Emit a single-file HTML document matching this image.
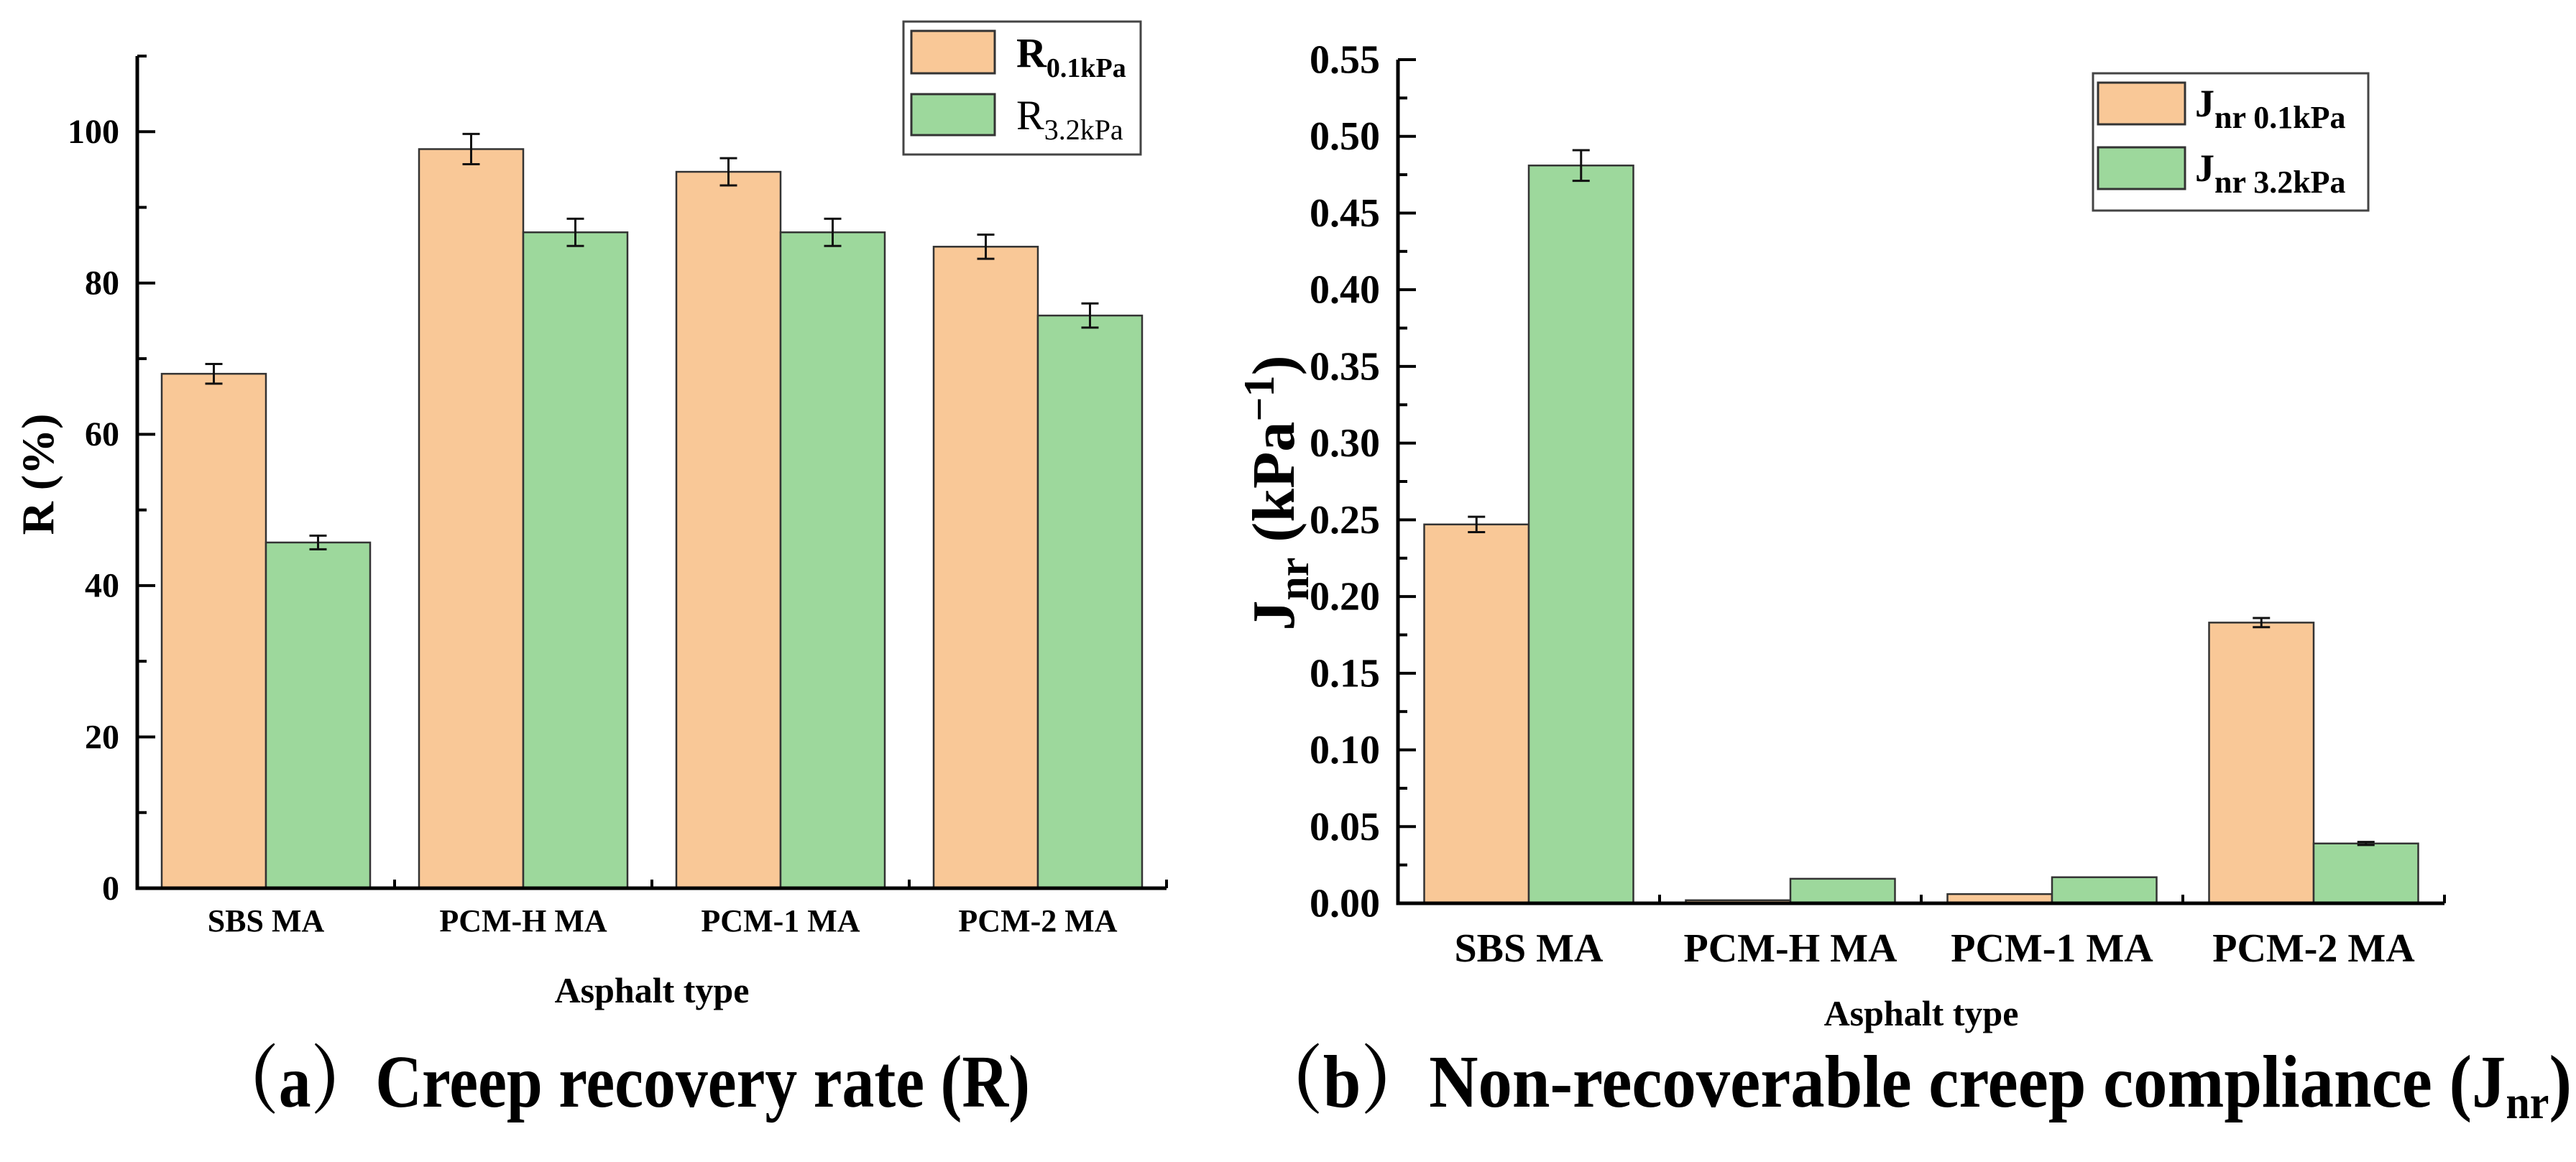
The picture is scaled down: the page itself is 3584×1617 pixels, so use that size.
<!DOCTYPE html>
<html><head><meta charset="utf-8"><style>
html,body{margin:0;padding:0;background:#fff;}
svg{display:block;font-family:"Liberation Serif","Noto Serif CJK SC",serif;}
</style></head><body>
<svg id="chart" width="3584" height="1617" viewBox="0 0 3584 1617" xmlns="http://www.w3.org/2000/svg">
<g id="left"></g>
<g id="right"></g>
</svg>
<script>
const categories = ["SBS MA","PCM-H MA","PCM-1 MA","PCM-2 MA"];
const rLow = [68.0, 97.7, 94.7, 84.8];
const rLowErr = [1.3, 2.0, 1.8, 1.6];
const rHigh = [45.7, 86.7, 86.7, 75.7];
const rHighErr = [0.9, 1.8, 1.8, 1.6];
const rTicks = [0, 20, 40, 60, 80, 100];
const jLow = [0.247, 0.002, 0.006, 0.183];
const jLowErr = [0.005, 0, 0, 0.003];
const jHigh = [0.481, 0.016, 0.017, 0.039];
const jHighErr = [0.010, 0, 0, 0.001];
const jTicks = [0, 0.05, 0.10, 0.15, 0.20, 0.25, 0.30, 0.35, 0.40, 0.45, 0.50, 0.55];

const NS = "http://www.w3.org/2000/svg";
const ORANGE = "#f9c897", GREEN = "#9dd89c";
function mk(parent, tag, attrs, text) {
  const e = document.createElementNS(NS, tag);
  for (const k in attrs) e.setAttribute(k, attrs[k]);
  if (text !== undefined) e.textContent = text;
  parent.appendChild(e);
  return e;
}

function drawChart(g, cfg) {
  const y = v => cfg.y0 - (v - 0) / cfg.ymax * (cfg.y0 - cfg.ytop);
  const catW = (cfg.xR - cfg.xL) / categories.length;
  const xc = i => cfg.xL + catW * (i + 0.5);
  const series = [[cfg.low, cfg.lowErr, ORANGE, -1], [cfg.high, cfg.highErr, GREEN, 0]];
  series.forEach(([vals, errs, col, off], si) => {
    vals.forEach((v, i) => {
      const x = xc(i) + off * cfg.bw;
      const r = mk(g, "rect", {x: x, y: y(v), width: cfg.bw, height: cfg.y0 - y(v), fill: col, stroke: "#333", "stroke-width": 2.5});
      
      
      const e = errs[i];
      if (e > 0) {
        const cx = x + cfg.bw / 2;
        const eb = mk(g, "path", {d: `M${cx-12},${y(v+e)}H${cx+12}M${cx},${y(v+e)}V${y(v-e)}M${cx-12},${y(v-e)}H${cx+12}`, stroke: "#111", "stroke-width": 3, fill: "none"});
        
        
      }
    });
  });
  const ax = mk(g, "path", {d: `M${cfg.xL},${cfg.ytop}V${cfg.y0}H${cfg.xR}`, stroke: "#000", "stroke-width": 5, fill: "none"});
  
  
  cfg.ticks.forEach((t, k) => {
    const tk = mk(g, "line", {x1: cfg.xL, x2: cfg.xL + 25, y1: y(t), y2: y(t), stroke: "#000", "stroke-width": 4});
    
    
    const lb = mk(g, "text", {x: cfg.xL - 25, y: y(t) + cfg.tickFs * 0.33, "text-anchor": "end", "font-size": cfg.tickFs, "font-weight": "bold"}, cfg.fmt(t));
    
    
    if (k < cfg.ticks.length - 1) {
      const m = (t + cfg.ticks[k + 1]) / 2;
      const mt = mk(g, "line", {x1: cfg.xL, x2: cfg.xL + 13, y1: y(m), y2: y(m), stroke: "#000", "stroke-width": 4});
      
      
    }
  });
  const topMinor = cfg.ticks[cfg.ticks.length - 1] + (cfg.ticks[1] - cfg.ticks[0]) / 2;
  if (topMinor <= cfg.ymax + 1e-9) {
    const mt = mk(g, "line", {x1: cfg.xL, x2: cfg.xL + 13, y1: y(topMinor), y2: y(topMinor), stroke: "#000", "stroke-width": 4});
    
    
  }
  for (let i = 1; i <= categories.length; i++) {
    const xt = mk(g, "line", {x1: cfg.xL + catW * i, x2: cfg.xL + catW * i, y1: cfg.y0, y2: cfg.y0 - 12, stroke: "#000", "stroke-width": 4});
    
    
  }
  categories.forEach((c, i) => {
    const t = mk(g, "text", {x: xc(i), y: cfg.catY, "text-anchor": "middle", "font-size": cfg.catFs, "font-weight": "bold"}, c);
    
    
  });
  const xt = mk(g, "text", {x: (cfg.xL + cfg.xR) / 2, y: cfg.xTitleY, "text-anchor": "middle", "font-size": 50, "font-weight": "bold"}, "Asphalt type");
  
  
}

const L = document.getElementById("left");
drawChart(L, {xL: 191, xR: 1623, y0: 1236, ytop: 78, ymax: 110, bw: 145, low: rLow, lowErr: rLowErr, high: rHigh, highErr: rHighErr,
  ticks: rTicks, fmt: t => String(t), tickFs: 48, catFs: 44, catY: 1296, xTitleY: 1395});
const R = document.getElementById("right");
drawChart(R, {xL: 1945, xR: 3401, y0: 1257, ytop: 83, ymax: 0.55, bw: 145.5, low: jLow, lowErr: jLowErr, high: jHigh, highErr: jHighErr,
  ticks: jTicks, fmt: t => t.toFixed(2), tickFs: 56, catFs: 56, catY: 1338, xTitleY: 1427});

let t = mk(L, "text", {transform: "translate(74,660) rotate(-90)", "text-anchor": "middle", "font-size": 64, "font-weight": "bold"}, "R (%)");


t = mk(R, "text", {transform: "translate(1800,686) rotate(-90)", "text-anchor": "middle", "font-size": 84, "font-weight": "bold"});


t.innerHTML = 'J<tspan font-size="60" dy="20">nr</tspan><tspan dy="-20"> (kPa</tspan><tspan font-size="60" dy="-28">−1</tspan><tspan dy="28">)</tspan>';

let lg = mk(L, "g", {});


mk(lg, "rect", {x: 1257, y: 30, width: 330, height: 185, fill: "#fff", stroke: "#444", "stroke-width": 3});
let s = mk(lg, "rect", {x: 1268, y: 43, width: 116, height: 59, fill: ORANGE, stroke: "#333", "stroke-width": 3});
 
s = mk(lg, "rect", {x: 1268, y: 131, width: 116, height: 57, fill: GREEN, stroke: "#333", "stroke-width": 3});
 
t = mk(lg, "text", {x: 1414, y: 93, "font-size": 58, "font-weight": "bold"});
t.innerHTML = 'R<tspan font-size="38" dy="14">0.1kPa</tspan>';
 
t = mk(lg, "text", {x: 1414, y: 180, "font-size": 58});
t.innerHTML = 'R<tspan font-size="40" dy="14">3.2kPa</tspan>';
 

lg = mk(R, "g", {});


mk(lg, "rect", {x: 2912, y: 102, width: 383, height: 191, fill: "#fff", stroke: "#444", "stroke-width": 3});
s = mk(lg, "rect", {x: 2919, y: 115, width: 121, height: 58, fill: ORANGE, stroke: "#333", "stroke-width": 3});
 
s = mk(lg, "rect", {x: 2919, y: 205, width: 121, height: 58, fill: GREEN, stroke: "#333", "stroke-width": 3});
 
t = mk(lg, "text", {x: 3054, y: 162, "font-size": 54, "font-weight": "bold"});
t.innerHTML = 'J<tspan font-size="44" dy="16">nr 0.1kPa</tspan>';
 
t = mk(lg, "text", {x: 3054, y: 252, "font-size": 54, "font-weight": "bold"});
t.innerHTML = 'J<tspan font-size="44" dy="16">nr 3.2kPa</tspan>';
 

t = mk(L, "text", {x: 298, y: 1540, "font-size": 104, "font-weight": "bold", textLength: 1135, lengthAdjust: "spacingAndGlyphs"}, "（a）Creep recovery rate (R)");
 
t = mk(R, "text", {x: 1746, y: 1540, "font-size": 104, "font-weight": "bold", textLength: 1832, lengthAdjust: "spacingAndGlyphs"});
t.innerHTML = '（b）Non-recoverable creep compliance (J<tspan font-size="66" dy="16">nr</tspan><tspan dy="-16">)</tspan>';
 
</script>
</body></html>
